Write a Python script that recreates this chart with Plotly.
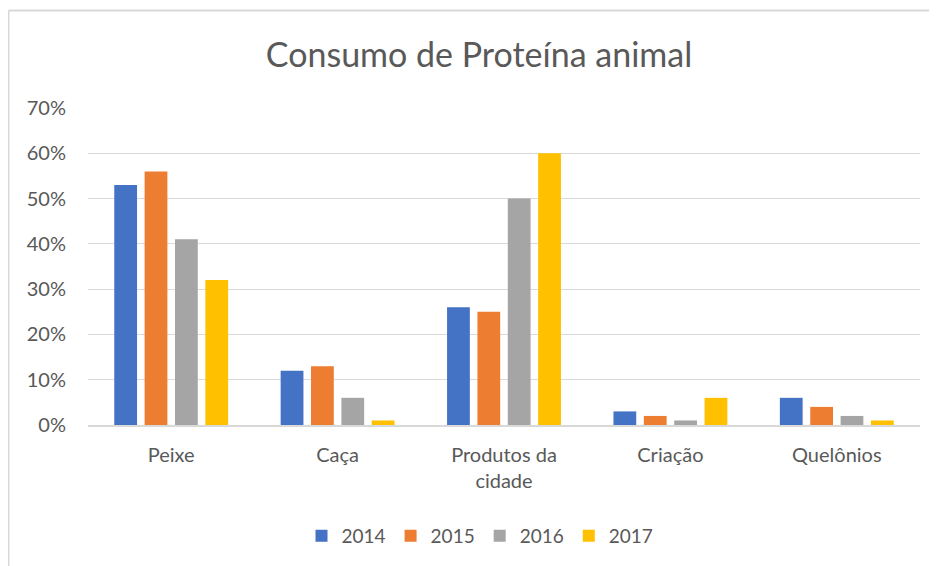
import plotly.graph_objects as go

categories = ["Peixe", "Caça", "Produtos da<br>cidade", "Criação", "Quelônios"]
years = ["2014", "2015", "2016", "2017"]
v2014 = [0.53, 0.12, 0.26, 0.03, 0.06]
v2015 = [0.56, 0.13, 0.25, 0.02, 0.04]
v2016 = [0.41, 0.06, 0.50, 0.01, 0.02]
v2017 = [0.32, 0.01, 0.60, 0.06, 0.01]
series = [v2014, v2015, v2016, v2017]
colors = ["#4472C4", "#ED7D31", "#A5A5A5", "#FFC000"]
tick_vals = [0, 0.1, 0.2, 0.3, 0.4, 0.5, 0.6, 0.7]
tick_text = ["0%", "10%", "20%", "30%", "40%", "50%", "60%", "70%"]

FONT = "Lato, Carlito, Calibri, sans-serif"
TXT = "#595959"
fig = go.Figure()
for name, vals, c in zip(years, series, colors):
    fig.add_trace(go.Bar(name=name, x=categories, y=vals, marker=dict(color=c, line=dict(width=0)),
                         hoverinfo="x+y+name"))

# the page body adds an 8px offset; layout coordinates are target pixels minus 8
OFF = 8
W, H = 937, 566
L = 88 - OFF
T = 108 - OFF
R = W - (920 - OFF)
B = H - (425 - OFF)
pw, ph = W - L - R, H - T - B

def px_x(x):
    return (x - OFF - L) / pw

def px_y(y):
    return (H - B - (y - OFF)) / ph

fig.update_layout(
    width=W, height=H,
    margin=dict(l=L, r=R, t=T, b=B, autoexpand=False),
    paper_bgcolor="white", plot_bgcolor="white",
    barmode="group", bargap=0.27, bargroupgap=0.25,
    title=dict(text="Consumo de Proteína animal", x=(479 - OFF) / W, xanchor="center",
               y=1 - (55 - OFF) / H, yanchor="middle",
               font=dict(family=FONT, size=34, color=TXT)),
    font=dict(family=FONT, size=20, color=TXT),
    xaxis=dict(showgrid=False, showline=True, linecolor="#D9D9D9", linewidth=1.5,
               ticklabelstandoff=11,
               tickfont=dict(family=FONT, size=20, color=TXT), ticks=""),
    yaxis=dict(range=[0, 0.7], tickvals=tick_vals, ticktext=tick_text, showgrid=True,
               gridcolor="#D9D9D9", gridwidth=1.2, zeroline=False, showline=False,
               ticklabelstandoff=21,
               tickfont=dict(family=FONT, size=20, color=TXT)),
    legend=dict(orientation="h", x=px_x(480), xanchor="center", y=px_y(536), yanchor="middle",
                font=dict(family=FONT, size=19, color=TXT), itemwidth=30,
                traceorder="normal"),
    showlegend=True,
    shapes=[
        dict(type="line", xref="paper", yref="paper", x0=px_x(8.5), x1=px_x(8.5),
             y0=px_y(10.5), y1=px_y(600), line=dict(color="#D9D9D9", width=2)),
        dict(type="line", xref="paper", yref="paper", x0=px_x(8.5), x1=px_x(960),
             y0=px_y(10.5), y1=px_y(10.5), line=dict(color="#D9D9D9", width=2)),
    ],
)

fig.write_html("out.html")
